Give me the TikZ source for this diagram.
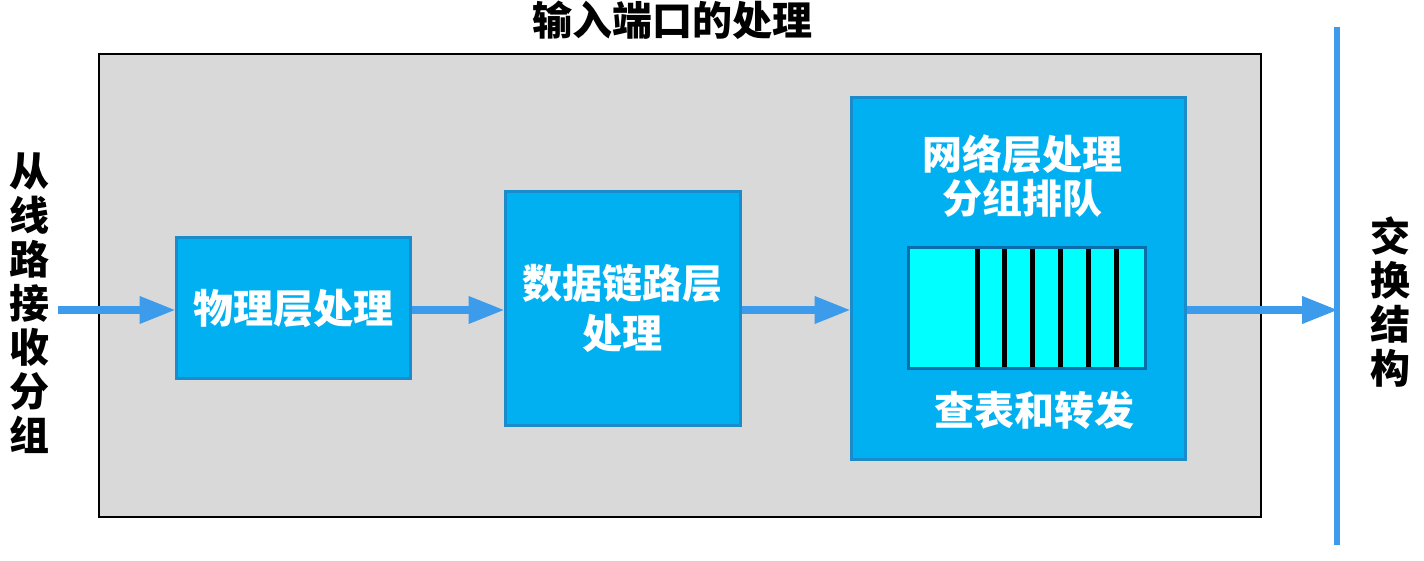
\documentclass[tikz,border=0pt]{standalone}
\usepackage{fontspec}
\setmainfont{Noto Sans CJK SC}
\usetikzlibrary{arrows.meta}
\definecolor{panel}{HTML}{D9D9D9}
\definecolor{boxfill}{HTML}{00B0F0}
\definecolor{boxline}{HTML}{1B8CCB}
\definecolor{arrowc}{HTML}{3D9BEB}
\definecolor{qcyan}{HTML}{00FFFF}
\definecolor{qline}{HTML}{0A6FA8}
\tikzset{
  procbox/.style={draw=boxline, line width=1.5pt, fill=boxfill, text=white, font=\fontsize{20}{25}\selectfont\bfseries, align=center, inner sep=0pt},
  flow/.style={draw=arrowc, line width=3.5pt, -{Triangle[length=18pt,width=13pt]}, shorten >=-0.5pt},
  lbl/.style={font=\fontsize{20}{22}\selectfont\bfseries, align=center, inner sep=0pt},
}
\begin{document}
\begin{tikzpicture}[x=0.5pt,y=-0.5pt]
\useasboundingbox (0,0) rectangle (1424,561);
% outer panel
\node[draw=black, line width=1.2pt, fill=panel, minimum width=581pt, minimum height=231.5pt, inner sep=0pt] (panel) at (680,285.5) {};
\node[lbl] (title) at (672,20) {输入端口的处理};
% boxes
\node[procbox, minimum width=117pt, minimum height=70pt] (phy) at (293,308) {物理层处理};
\node[procbox, minimum width=117.5pt, minimum height=116.5pt] (dl) at (622.5,308.5) {数据链路层\\处理};
\node[procbox, minimum width=167pt, minimum height=180.5pt] (net) at (1018,278.5) {};
\node[lbl, text=white] (nettxt) at (1022,176) {网络层处理\\分组排队};
% queue
\node[draw=qline, line width=1.5pt, fill=qcyan, minimum width=118.5pt, minimum height=60.5pt, inner sep=0pt] (queue) at (1026.5,308) {};
\foreach \x in {977,1004.5,1032,1060,1088,1116}{
  \draw[line width=2.5pt, black] (\x,249) -- (\x,367);
}
\node[lbl, text=white] (lookup) at (1034,410) {查表和转发};
% side labels
\node[lbl, font=\fontsize{20}{22}\selectfont\bfseries] (inlbl) at (30,303) {从\\线\\路\\接\\收\\分\\组};
\node[lbl, font=\fontsize{20}{22}\selectfont\bfseries] (outlbl) at (1390,302) {交\\换\\结\\构};
% switch fabric line
\coordinate (ftop) at (1337,27);
\coordinate (fbot) at (1337,545);
\draw[arrowc, line width=3pt] (ftop) -- (fbot);
\coordinate (fin) at (1337,310);
\coordinate (src) at (58,310);
% arrows
\draw[flow] (src) -- (phy.west |- src);
\draw[flow] (phy.east |- src) -- (dl.west |- src);
\draw[flow] (dl.east |- src) -- (net.west |- src);
\draw[flow] (net.east |- src) -- (fin);
\end{tikzpicture}
\end{document}
